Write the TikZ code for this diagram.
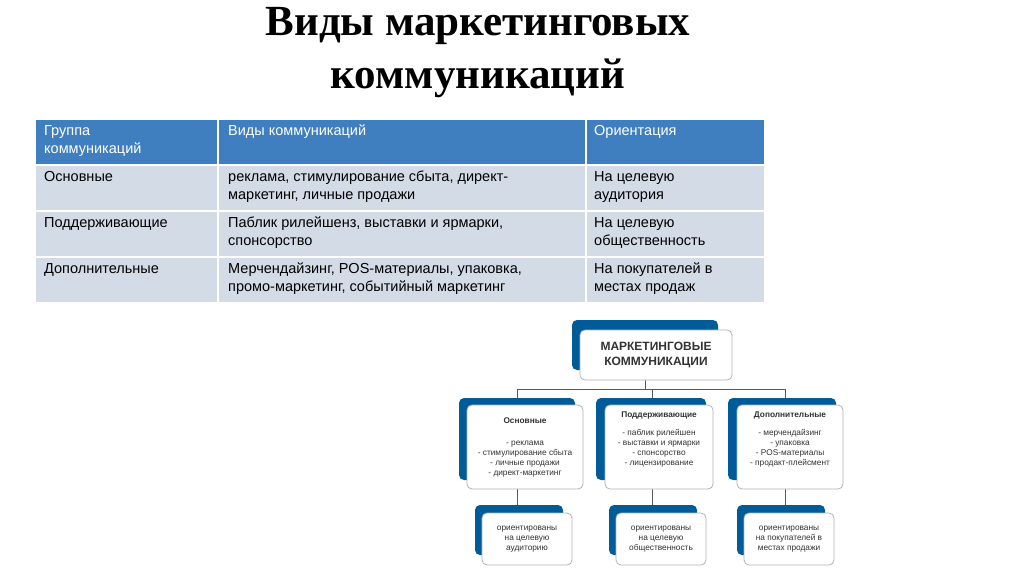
\documentclass[tikz,border=0pt]{standalone}
\usepackage{fontspec}
\setmainfont{Liberation Sans}
\newfontfamily\serifb{Liberation Serif}
\begin{document}
\begin{tikzpicture}[x=1pt,y=-1pt,
 cell/.style={anchor=north west,inner sep=0pt,align=left,font=\fontsize{14.5}{18}\selectfont},
 hcell/.style={cell,text=white},
 back/.style={fill=blue!40!cyan!60!black,rounded corners=5pt},
 front/.style={fill=white,draw=gray!60,rounded corners=5pt,line width=0.8pt,align=center,font=\fontsize{8.3}{10}\selectfont,text=black!80},
 conn/.style={draw=gray!70!black,line width=1pt}]
\useasboundingbox (0,0) rectangle (1024,574);
\fill[white] (0,0) rectangle (1024,574);
\node[font=\serifb\bfseries\fontsize{43}{53}\selectfont,align=center] (title) at (478,53) {Виды маркетинговых\\коммуникаций};
% table
\definecolor{hdr}{HTML}{3F7FC0}
\definecolor{rowc}{HTML}{D3DBE7}
\fill[hdr] (36,120) rectangle (764,164);
\foreach \y in {166,212,258} \fill[rowc] (36,\y) rectangle (764,\y+44);
\draw[white,line width=1.5pt] (218,120) -- (218,302) (586,120) -- (586,302);
\node[hcell] (h1) at (44,125) {Группа\\коммуникаций};
\node[hcell] (h2) at (228,125) {Виды коммуникаций};
\node[hcell] (h3) at (594,125) {Ориентация};
\node[cell] (a1) at (44,171) {Основные};
\node[cell] (b1) at (228,171) {реклама, стимулирование сбыта, директ-\\маркетинг, личные продажи};
\node[cell] (c1) at (594,171) {На целевую\\аудитория};
\node[cell] (a2) at (44,217) {Поддерживающие};
\node[cell] (b2) at (228,217) {Паблик рилейшенз, выставки и ярмарки,\\спонсорство};
\node[cell] (c2) at (594,217) {На целевую\\общественность};
\node[cell] (a3) at (44,263) {Дополнительные};
\node[cell] (b3) at (228,263) {Мерчендайзинг, POS-материалы, упаковка,\\промо-маркетинг, событийный маркетинг};
\node[cell] (c3) at (594,263) {На покупателей в\\местах продаж};
% diagram
\coordinate (tb) at (645,380);
\coordinate (hl) at (517,389);
\coordinate (hm) at (652,389);
\coordinate (hr) at (785,389);
\draw[conn] (tb) -- (645,389);
\draw[conn] (hl) -- (hr);
\draw[conn] (hl) -- (517,540) (hm) -- (652,540) (hr) -- (785,540);
\fill[back] (572,320) rectangle (718,370);
\node[front,minimum width=152pt,minimum height=50pt,font=\bfseries\fontsize{12}{15}\selectfont] (top) at (656,355) {МАРКЕТИНГОВЫЕ\\КОММУНИКАЦИИ};
\foreach \x/\w in {459/116,596/110,728/108} \fill[back] (\x,398) rectangle (\x+\w,480);
\node[front,minimum width=116pt,minimum height=84pt] (m1) at (525,447) {\textbf{Основные}\\[12pt]- реклама\\- стимулирование сбыта\\- личные продажи\\- директ-маркетинг};
\node[front,minimum width=108pt,minimum height=84pt] (m2) at (659,447) {\textbf{Поддерживающие}\\[8pt]- паблик рилейшен\\- выставки и ярмарки\\- спонсорство\\- лицензирование\\[6pt]};
\node[front,minimum width=106pt,minimum height=84pt] (m3) at (790,447) {\textbf{Дополнительные}\\[8pt]- мерчендайзинг\\- упаковка\\- POS-материалы\\- продакт-плейсмент\\[6pt]};
\foreach \x in {475,609,737} \fill[back] (\x,505) rectangle (\x+88,555);
\node[front,minimum width=90pt,minimum height=52pt] (b1x) at (527,539) {ориентированы\\на целевую\\аудиторию};
\node[front,minimum width=90pt,minimum height=52pt] (b2x) at (661,539) {ориентированы\\на целевую\\общественность};
\node[front,minimum width=90pt,minimum height=52pt] (b3x) at (789,539) {ориентированы\\на покупателей в\\местах продажи};
\end{tikzpicture}
\end{document}
